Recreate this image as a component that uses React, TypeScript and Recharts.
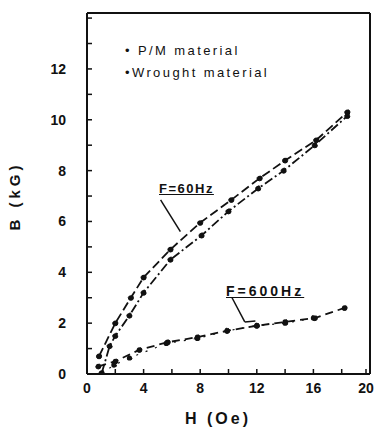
import { ComposedChart, Line, XAxis, YAxis, ReferenceLine } from "recharts";

// H (Oe) / B (kG) readings, F = 60 Hz
const pm60H = [0.85, 2.0, 3.1, 4.0, 5.9, 8.0, 10.2, 12.2, 14.0, 16.2, 18.4];
const pm60B = [0.7, 2.0, 3.0, 3.8, 4.9, 5.95, 6.85, 7.7, 8.4, 9.2, 10.3];
const wr60H = [1.05, 1.6, 2.0, 3.0, 4.0, 5.9, 8.1, 10.0, 12.1, 13.9, 16.1, 18.4];
const wr60B = [0.05, 1.1, 1.5, 2.3, 3.2, 4.5, 5.45, 6.4, 7.3, 8.0, 9.0, 10.15];

// F = 600 Hz
const pm600H = [0.8, 2.0, 3.7, 5.7, 7.8, 9.9, 12.0, 14.0, 16.1, 18.2];
const pm600B = [0.3, 0.5, 0.95, 1.25, 1.45, 1.7, 1.9, 2.05, 2.2, 2.6];
const wr600H = [1.0, 1.9, 3.0, 5.6, 7.8, 9.9, 12.0, 14.0, 16.0];
const wr600B = [0.0, 0.35, 0.63, 1.2, 1.4, 1.7, 1.9, 2.0, 2.2];

const xTicks = [0, 2, 4, 6, 8, 10, 12, 14, 16, 18, 20];
const xLabels = [0, 4, 8, 12, 16, 20];
const yTicks = [0, 1, 2, 3, 4, 5, 6, 7, 8, 9, 10, 11, 12, 13, 14];
const yLabels = [0, 2, 4, 6, 8, 10, 12];

const zip = (h: number[], b: number[]) => h.map((v, i) => ({ h: v, b: b[i] }));

const INK = "#111";
const FONT = "'Liberation Sans', Arial, sans-serif";

const BottomTick = (props: any) => {
  const { x, y, payload } = props;
  return (
    <g>
      <line x1={x} x2={x} y1={y} y2={y - 5} stroke={INK} strokeWidth={1.5} />
      {xLabels.includes(payload.value) && (
        <text x={x} y={y + 19} textAnchor="middle" fontSize={14} fontWeight="bold" fill={INK} fontFamily={FONT}>
          {payload.value}
        </text>
      )}
    </g>
  );
};

const LeftTick = (props: any) => {
  const { x, y, payload } = props;
  return (
    <g>
      <line x1={x} x2={x + 5} y1={y} y2={y} stroke={INK} strokeWidth={1.5} />
      {yLabels.includes(payload.value) && (
        <text x={x - 21} y={y + 5} textAnchor="end" fontSize={14} fontWeight="bold" fill={INK} fontFamily={FONT}>
          {payload.value}
        </text>
      )}
    </g>
  );
};

const TopTick = (props: any) => {
  const { x, y } = props;
  return <line x1={x} x2={x} y1={y} y2={y + 5} stroke={INK} strokeWidth={1.5} />;
};

const RightTick = (props: any) => {
  const { x, y } = props;
  return <line x1={x - 3} x2={x + 4} y1={y} y2={y} stroke={INK} strokeWidth={1.5} />;
};

const dot = { r: 2.6, fill: INK, stroke: INK, strokeWidth: 1 };

export default function App() {
  return (
    <div style={{ position: "absolute", left: 0, top: 0, width: 374, height: 430, background: "#fff", fontFamily: FONT }}>
      <ComposedChart width={374} height={430} margin={{ top: 0, right: 0, bottom: 30, left: 0 }}>
        <XAxis
          xAxisId="bottom"
          type="number"
          dataKey="h"
          domain={[0, 20]}
          ticks={xTicks}
          height={26}
          tickSize={0}
          tickMargin={0}
          tick={<BottomTick />}
          axisLine={{ stroke: INK, strokeWidth: 2 }}
          allowDataOverflow
        />
        <XAxis
          xAxisId="top"
          orientation="top"
          type="number"
          dataKey="h"
          domain={[0, 20]}
          ticks={xTicks}
          height={13}
          tickSize={0}
          tickMargin={0}
          tick={<TopTick />}
          axisLine={{ stroke: INK, strokeWidth: 2 }}
        />
        <YAxis
          yAxisId="left"
          type="number"
          domain={[0, 14.2]}
          ticks={yTicks}
          width={87}
          tickSize={0}
          tickMargin={0}
          tick={<LeftTick />}
          axisLine={{ stroke: INK, strokeWidth: 2 }}
          allowDataOverflow
        />
        <YAxis
          yAxisId="right"
          orientation="right"
          type="number"
          domain={[0, 14.2]}
          ticks={yTicks}
          width={4}
          tickSize={0}
          tickMargin={0}
          tick={<RightTick />}
          axisLine={{ stroke: INK, strokeWidth: 2 }}
        />

        <Line xAxisId="bottom" yAxisId="left" data={zip(pm60H, pm60B)} dataKey="b" type="linear"
          stroke={INK} strokeWidth={1.8} strokeDasharray="9 4" dot={dot} isAnimationActive={false} />
        <Line xAxisId="bottom" yAxisId="left" data={zip(wr60H, wr60B)} dataKey="b" type="linear"
          stroke={INK} strokeWidth={1.8} strokeDasharray="9 3 2 3" dot={dot} isAnimationActive={false} />
        <Line xAxisId="bottom" yAxisId="left" data={zip(pm600H, pm600B)} dataKey="b" type="linear"
          stroke={INK} strokeWidth={1.8} strokeDasharray="8 5" dot={dot} isAnimationActive={false} />
        <Line xAxisId="bottom" yAxisId="left" data={zip(wr600H, wr600B)} dataKey="b" type="linear"
          stroke={INK} strokeWidth={1.2} strokeDasharray="2 8" dot={dot} isAnimationActive={false} />

        {/* annotation leaders */}
        <ReferenceLine xAxisId="bottom" yAxisId="left" segment={[{ x: 5.2, y: 6.85 }, { x: 6.6, y: 5.6 }]} stroke={INK} strokeWidth={1.5} />
        <ReferenceLine xAxisId="bottom" yAxisId="left" segment={[{ x: 10.25, y: 3.0 }, { x: 11.15, y: 2.05 }]} stroke={INK} strokeWidth={1.5} />
        <ReferenceLine xAxisId="bottom" yAxisId="left" segment={[{ x: 11.15, y: 2.05 }, { x: 11.9, y: 2.08 }]} stroke={INK} strokeWidth={1.5} />
      </ComposedChart>

      <div style={{ position: "absolute", left: 125, top: 43, fontSize: 13, letterSpacing: 2.4, color: INK, whiteSpace: "nowrap" }}>
        • P/M material
      </div>
      <div style={{ position: "absolute", left: 125, top: 65, fontSize: 13, letterSpacing: 2.4, color: INK, whiteSpace: "nowrap" }}>
        •Wrought material
      </div>
      <div style={{ position: "absolute", left: 159, top: 181, fontSize: 13, fontWeight: "bold", letterSpacing: 1.5, color: INK, textDecoration: "underline", whiteSpace: "nowrap" }}>
        F=60Hz
      </div>
      <div style={{ position: "absolute", left: 226, top: 283, fontSize: 14, fontWeight: "bold", letterSpacing: 3, color: INK, textDecoration: "underline", whiteSpace: "nowrap" }}>
        F=600Hz
      </div>
      <div style={{ position: "absolute", left: 185, top: 410, fontSize: 16, fontWeight: "bold", color: INK, whiteSpace: "nowrap", letterSpacing: 3 }}>
        H (Oe)
      </div>
      <div style={{ position: "absolute", left: 14, top: 196, fontSize: 15, fontWeight: "bold", color: INK, whiteSpace: "nowrap", letterSpacing: 4, transform: "translate(-50%, -50%) rotate(-90deg)" }}>
        B (kG)
      </div>
    </div>
  );
}
